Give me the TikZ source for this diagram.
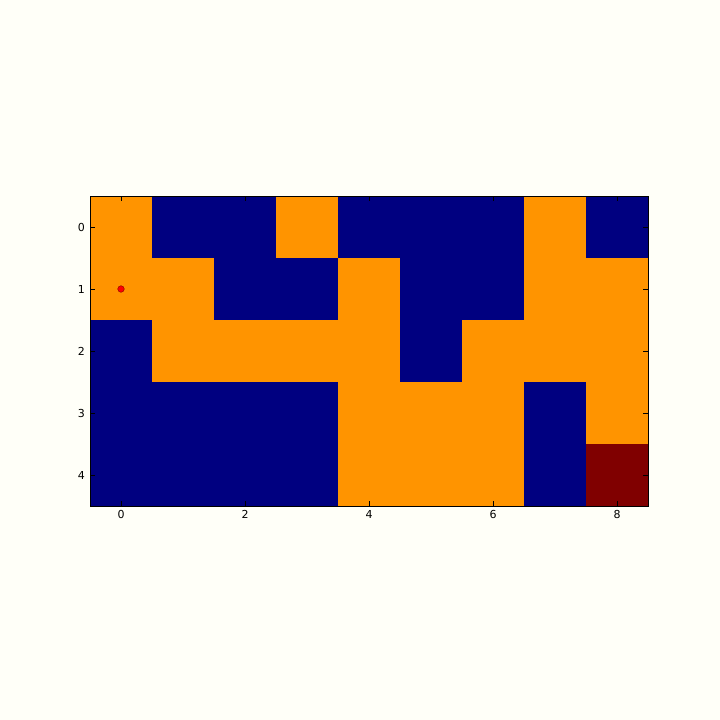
\documentclass[tikz,border=0pt]{standalone}
\usepackage{fontspec}
\setmainfont{DejaVu Sans}
\definecolor{bg}{RGB}{255,255,248}
\definecolor{jorange}{RGB}{255,148,0}
\definecolor{jnavy}{RGB}{0,0,128}
\definecolor{jred}{RGB}{128,0,0}
\begin{document}
\begin{tikzpicture}[x=1pt,y=-1pt,
  cellO/.style={fill=jorange},
  cellB/.style={fill=jnavy},
  cellR/.style={fill=jred},
  tickline/.style={line width=0.6pt},
  ticklab/.style={font=\fontsize{11}{12}\selectfont, inner sep=0pt}]
\fill[bg] (0,0) rectangle (720,720);
\useasboundingbox (0,0) rectangle (720,720);
\foreach \r/\row in {0/{O,B,B,O,B,B,B,O,B},1/{O,O,B,B,O,B,B,O,O},2/{B,O,O,O,O,B,O,O,O},3/{B,B,B,B,O,O,O,B,O},4/{B,B,B,B,O,O,O,B,R}}{
  \foreach \v [count=\c from 0] in \row {
    \fill[cell\v] ({90+62*\c},{196+62*\r}) rectangle ({152+62*\c},{258+62*\r});
  }
}
\draw[black, line width=0.8pt] (90,196) rectangle (648,506);
% x ticks
\foreach \i in {0,2,4,6,8}{
  \draw[tickline] ({121+62*\i},196) -- ({121+62*\i},201);
  \draw[tickline] ({121+62*\i},506) -- ({121+62*\i},501);
  \node[ticklab, anchor=north] (xl\i) at ({121+62*\i},510) {\i};
}
% y ticks
\foreach \j in {0,...,4}{
  \draw[tickline] (90,{227+62*\j}) -- (95,{227+62*\j});
  \draw[tickline] (648,{227+62*\j}) -- (643,{227+62*\j});
  \node[ticklab, anchor=east] (yl\j) at (85,{227+62*\j}) {\j};
}
\fill[red, draw=jred, line width=0.4pt] (121,289) circle (3.3);
\end{tikzpicture}
\end{document}
